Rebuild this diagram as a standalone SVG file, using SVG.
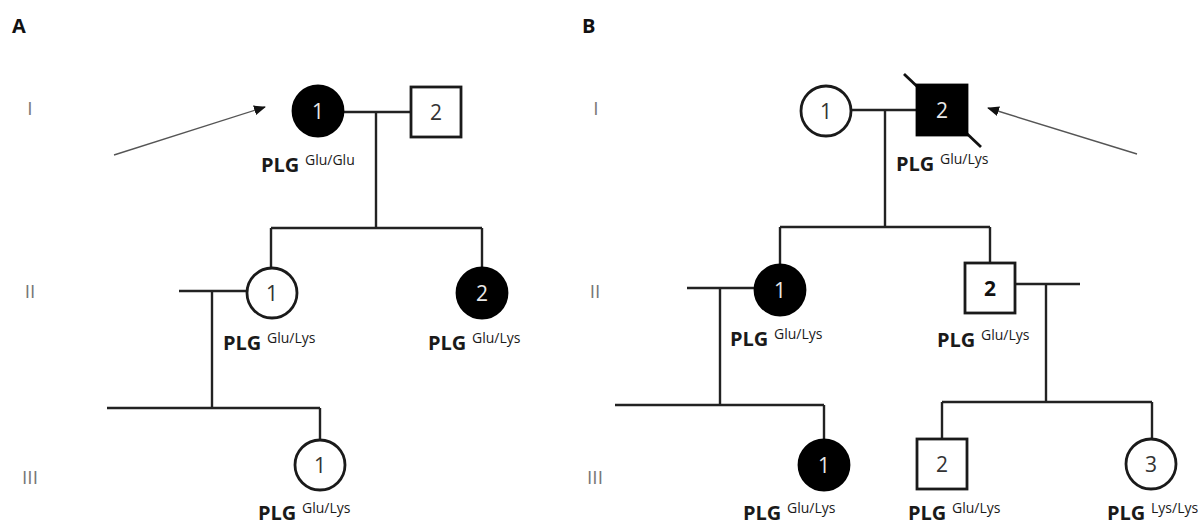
<svg xmlns="http://www.w3.org/2000/svg" width="1200" height="526" viewBox="0 0 1200 526">
<defs>
<marker id="ah" viewBox="0 0 12 10" refX="11" refY="5" markerWidth="12" markerHeight="10" markerUnits="userSpaceOnUse" orient="auto">
<path d="M0,0 L12,5 L0,10 z" fill="#111"/>
</marker>
</defs>
<style>
.ln{stroke:#222;stroke-width:2.4;fill:none}
.open{fill:#fff;stroke:#1a1a1a;stroke-width:2.8}
.aff{fill:#000;stroke:#000;stroke-width:2.8}
.num{font-family:"Open Sans","Liberation Sans",sans-serif;font-size:21px;text-anchor:middle;fill:#333}
.numw{fill:#e8e8e8}
.bold{font-weight:bold;fill:#111}
.plg{font-family:"Open Sans","Liberation Sans",sans-serif;font-size:20px;font-weight:bold;fill:#1a1a1a}
.sup{font-family:"Open Sans","Liberation Sans",sans-serif;font-size:14px;fill:#1a1a1a}
.gen{font-family:"Open Sans","Liberation Sans",sans-serif;font-size:19px;font-weight:normal;fill:#777;text-anchor:middle}
.pan{font-family:"Open Sans","Liberation Sans",sans-serif;font-size:20px;font-weight:bold;fill:#111}
.arr{stroke:#555;stroke-width:1.4;fill:none}
</style>
<rect width="1200" height="526" fill="#fff"/>

<text class="pan" x="12" y="33">A</text>
<text class="pan" x="582" y="33">B</text>
<text class="gen" x="30" y="115">I</text>
<text class="gen" x="30" y="298">II</text>
<text class="gen" x="30" y="484">III</text>
<text class="gen" x="596" y="115">I</text>
<text class="gen" x="595" y="298">II</text>
<text class="gen" x="595" y="484">III</text>

<g id="connectors">
<!-- Panel A -->
<line class="ln" x1="343" y1="112" x2="411" y2="112"/>
<line class="ln" x1="376" y1="112" x2="376" y2="228"/>
<line class="ln" x1="271" y1="228" x2="482" y2="228"/>
<line class="ln" x1="271" y1="228" x2="271" y2="269"/>
<line class="ln" x1="482" y1="228" x2="482" y2="269"/>
<line class="ln" x1="179" y1="291" x2="247" y2="291"/>
<line class="ln" x1="212" y1="291" x2="212" y2="408"/>
<line class="ln" x1="107" y1="408" x2="320" y2="408"/>
<line class="ln" x1="320" y1="408" x2="320" y2="440"/>
<line class="arr" x1="114" y1="155" x2="265" y2="107" marker-end="url(#ah)"/>
<!-- Panel B -->
<line class="ln" x1="851" y1="110" x2="916" y2="110"/>
<line class="ln" x1="885" y1="110" x2="885" y2="227"/>
<line class="ln" x1="780" y1="227" x2="990" y2="227"/>
<line class="ln" x1="780" y1="227" x2="780" y2="266"/>
<line class="ln" x1="990" y1="227" x2="990" y2="263"/>
<line class="ln" x1="687" y1="288" x2="755" y2="288"/>
<line class="ln" x1="720" y1="288" x2="720" y2="405"/>
<line class="ln" x1="615" y1="405" x2="824" y2="405"/>
<line class="ln" x1="824" y1="405" x2="824" y2="440"/>
<line class="ln" x1="1015" y1="284" x2="1080" y2="284"/>
<line class="ln" x1="1046" y1="284" x2="1046" y2="402"/>
<line class="ln" x1="942" y1="402" x2="1152" y2="402"/>
<line class="ln" x1="942" y1="402" x2="942" y2="439"/>
<line class="ln" x1="1152" y1="402" x2="1152" y2="439"/>
<line class="arr" x1="1137" y1="154" x2="988" y2="108" marker-end="url(#ah)"/>
</g>

<!-- Panel A nodes -->
<g id="A-I-1">
<circle class="aff" cx="318" cy="111" r="25"/>
<text class="num numw" x="318" y="119">1</text>
<text class="plg" x="261" y="172">PLG</text><text class="sup" x="305" y="165">Glu/Glu</text>
</g>
<g id="A-I-2">
<rect class="open" x="411" y="87" width="50" height="50"/>
<text class="num" x="436" y="120">2</text>
</g>
<g id="A-II-1">
<circle class="open" cx="272" cy="293" r="25"/>
<text class="num" x="272" y="301">1</text>
<text class="plg" x="223" y="350">PLG</text><text class="sup" x="267" y="343">Glu/Lys</text>
</g>
<g id="A-II-2">
<circle class="aff" cx="482" cy="293" r="25"/>
<text class="num numw" x="482" y="301">2</text>
<text class="plg" x="428" y="350">PLG</text><text class="sup" x="472" y="343">Glu/Lys</text>
</g>
<g id="A-III-1">
<circle class="open" cx="320" cy="465" r="25"/>
<text class="num" x="320" y="473">1</text>
<text class="plg" x="258" y="520">PLG</text><text class="sup" x="302" y="513">Glu/Lys</text>
</g>

<!-- Panel B nodes -->
<g id="B-I-1">
<circle class="open" cx="826" cy="111" r="25"/>
<text class="num" x="826" y="119">1</text>
</g>
<g id="B-I-2">
<line x1="904" y1="74" x2="981" y2="147" stroke="#111" stroke-width="2.8"/>
<rect class="aff" x="917" y="85" width="50" height="50"/>
<text class="num numw" x="942" y="118">2</text>
<text class="plg" x="896" y="171">PLG</text><text class="sup" x="940" y="164">Glu/Lys</text>
</g>
<g id="B-II-1">
<circle class="aff" cx="780" cy="290" r="25"/>
<text class="num numw" x="780" y="298">1</text>
<text class="plg" x="730" y="346">PLG</text><text class="sup" x="774" y="339">Glu/Lys</text>
</g>
<g id="B-II-2">
<rect class="open" x="965" y="263" width="50" height="50"/>
<text class="num bold" x="990" y="296">2</text>
<text class="plg" x="937" y="347">PLG</text><text class="sup" x="981" y="340">Glu/Lys</text>
</g>
<g id="B-III-1">
<circle class="aff" cx="824" cy="465" r="25"/>
<text class="num numw" x="824" y="473">1</text>
<text class="plg" x="743" y="520">PLG</text><text class="sup" x="787" y="513">Glu/Lys</text>
</g>
<g id="B-III-2">
<rect class="open" x="917" y="439" width="50" height="50"/>
<text class="num" x="942" y="472">2</text>
<text class="plg" x="908" y="520">PLG</text><text class="sup" x="952" y="513">Glu/Lys</text>
</g>
<g id="B-III-3">
<circle class="open" cx="1151" cy="464" r="25"/>
<text class="num" x="1151" y="472">3</text>
<text class="plg" x="1107" y="520">PLG</text><text class="sup" x="1151" y="513">Lys/Lys</text>
</g>
</svg>
